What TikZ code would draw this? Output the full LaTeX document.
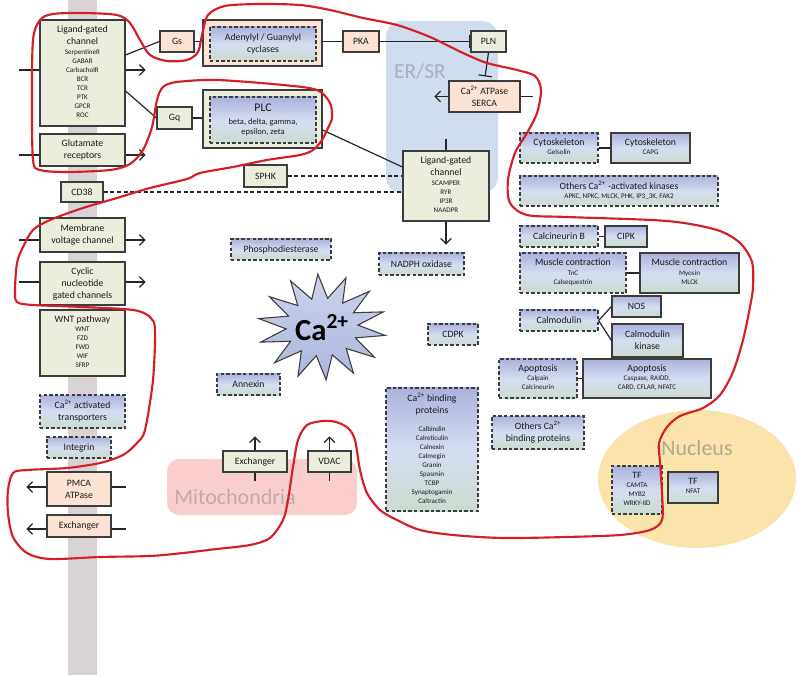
\documentclass[tikz,border=0pt]{standalone}
\usepackage{fontspec}
\setmainfont{Carlito}
\usetikzlibrary{arrows.meta,calc}
\definecolor{gfill}{RGB}{235,238,220}
\definecolor{pfill}{RGB}{252,227,211}
\definecolor{bord}{RGB}{60,60,60}
\definecolor{btop}{RGB}{172,178,220}
\definecolor{bmid}{RGB}{212,221,240}
\definecolor{bbot}{RGB}{204,220,208}
\definecolor{redl}{RGB}{212,30,40}
\definecolor{memb}{RGB}{217,211,213}
\definecolor{erfill}{RGB}{207,221,238}
\definecolor{mitofill}{RGB}{251,206,206}
\definecolor{nucfill}{RGB}{250,228,172}
\definecolor{ertext}{RGB}{168,175,190}
\definecolor{nuctext}{RGB}{175,168,150}
\definecolor{mitotext}{RGB}{190,170,170}
\definecolor{startop}{RGB}{205,212,236}
\definecolor{starbot}{RGB}{172,182,220}
\newcommand\bigtxt{\fontsize{7.3}{9}\selectfont}
\newcommand\smtxt{\fontsize{5.3}{6.75}\selectfont}
\newcommand\sublist[1]{{\smtxt\begin{tabular}[t]{@{}c@{}}#1\end{tabular}}}
\tikzset{
  sz/.style 2 args={minimum width=#1*0.75pt, minimum height=#2*0.75pt},
  boxbase/.style={draw=bord, line width=0.9pt, inner sep=0pt, align=center, font=\bigtxt, text=black!90},
  gbox/.style={boxbase, fill=gfill},
  pbox/.style={boxbase, fill=pfill},
  solbox/.style={boxbase, top color=btop, bottom color=bbot, middle color=bmid},
  dbox/.style={solbox, dash pattern=on 2.6pt off 1.6pt},
  conn/.style={draw=black!85, line width=0.9pt},
  arr/.style={conn, -{Straight Barb[length=4pt,width=8pt]}},
  inh/.style={conn, -{Bar[width=10pt]}},
  dline/.style={conn, dash pattern=on 3pt off 2pt},
}
\begin{document}
\begin{tikzpicture}[x=0.75pt,y=-0.75pt]
\useasboundingbox (0,0) rectangle (800,677);
\fill[white] (0,0) rectangle (800,677);
% backgrounds
\fill[memb] (68,0) rectangle (97,675);
\fill[erfill, rounded corners=12pt] (386,21) rectangle (498,193);
\node[font=\fontsize{16}{18}\selectfont, text=ertext] (erlab) at (420,72) {ER/SR};
\fill[mitofill, rounded corners=9pt] (167,459) rectangle (357,515);
\node[font=\fontsize{16.5}{18}\selectfont, text=mitotext] (mitolab) at (235,497) {Mitochondria};
\fill[nucfill] (697,479) ellipse [x radius=99, y radius=69];
\node[font=\fontsize{16.5}{18}\selectfont, text=nuctext] (nuclab) at (697,448) {Nucleus};

% left column
\node[gbox, sz={85}{106}] (lgc) at (82.5,73) {Ligand-gated\\channel\\[-2pt]\sublist{SerpentineR\\GABAR\\CarbacholR\\BCR\\TCR\\PTK\\GPCR\\ROC}};
\node[gbox, sz={85}{32}] (glu) at (82.5,150) {Glutamate\\receptors};
\node[gbox, sz={42}{20}] (cd38) at (82,192) {CD38};
\node[gbox, sz={85}{34}] (mvc) at (82.5,235) {Membrane\\voltage channel};
\node[gbox, sz={85}{43}] (cng) at (82.5,283.5) {Cyclic\\nucleotide\\gated channels};
\node[gbox, sz={85}{66}] (wnt) at (82.5,343) {WNT pathway\\[-2pt]\sublist{WNT\\FZD\\FWD\\WIF\\SFRP}};
\node[dbox, sz={85}{33}] (cat) at (82.5,411.5) {Ca\textsuperscript{2+} activated\\transporters};
\node[dbox, sz={64}{21}] (itg) at (79,447.5) {Integrin};
\node[pbox, sz={64}{34}] (pmca) at (79,489) {PMCA\\ATPase};
\node[pbox, sz={64}{22}] (exl) at (79,526) {Exchanger};

% G proteins and top
\node[pbox, sz={34}{21}] (gs) at (177,41.5) {Gs};
\node[gbox, sz={35}{22}] (gq) at (174.5,118) {Gq};
\node[pbox, sz={119}{46}] (cyc) at (262.5,43) {};
\node[dbox, sz={106}{34}] (cyci) at (263,44) {Adenylyl / Guanylyl\\cyclases};
\node[gbox, sz={119}{58}] (plc) at (262.5,119) {};
\node[dbox, sz={106}{46}, font=\fontsize{6.4}{7.6}\selectfont] (plci) at (263,120) {{\fontsize{8.8}{10}\selectfont PLC}\\[2pt]beta, delta, gamma,\\epsilon, zeta};
\node[pbox, sz={36}{21}] (pka) at (361,41.5) {PKA};
\node[gbox, sz={35}{21}] (pln) at (488.5,41.5) {PLN};
\node[pbox, sz={71}{31}] (serca) at (484.5,96.5) {Ca\textsuperscript{2+} ATPase\\SERCA};

% centre
\node[gbox, sz={86}{70}] (lgc2) at (446,186) {Ligand-gated\\channel\\[-2pt]\sublist{SCAMPER\\RYR\\IP3R\\NAADPR}};
\node[gbox, sz={43}{22}] (sphk) at (265.5,176) {SPHK};
\node[dbox, sz={100}{21}] (pde) at (281,249.5) {Phosphodiesterase};
\node[dbox, sz={85}{22}] (nadph) at (421.5,264) {NADPH oxidase};
\node[dbox, sz={63}{21}] (anx) at (248.5,384.5) {Annexin};
\node[dbox, sz={50}{21}] (cdpk) at (453,334.5) {CDPK};
\node[dbox, sz={92}{123}] (cbp) at (432,449.5) {Ca\textsuperscript{2+} binding\\proteins\\[4pt]\sublist{Calbindin\\Calreticulin\\Calnexin\\Calmegin\\Granin\\Spasmin\\TCBP\\Synaptogamin\\Caltractin}};
\node[dbox, sz={92}{33}] (ocbp) at (538,432.5) {Others Ca\textsuperscript{2+}\\binding proteins};
\node[gbox, sz={64}{21}] (exm) at (255,461.5) {Exchanger};
\node[gbox, sz={43}{21}] (vdac) at (329.5,461.5) {VDAC};

% right
\node[dbox, sz={78}{30}] (cyto1) at (559,148) {Cytoskeleton\\[-2pt]\sublist{Gelsolin}};
\node[solbox, sz={79}{30}] (cyto2) at (650.5,148) {Cytoskeleton\\[-2pt]\sublist{CAPG}};
\node[dbox, sz={198}{30}] (okin) at (619,191) {Others Ca\textsuperscript{2+} -activated kinases\\[-2pt]\sublist{APKC, NPKC, MLCK, PHK, IP3\_3K, FAK2}};
\node[dbox, sz={78}{21}] (calb) at (559,236.5) {Calcineurin B};
\node[solbox, sz={42}{21}] (cipk) at (626,236.5) {CIPK};
\node[dbox, sz={106}{40}] (mus1) at (573,273) {Muscle contraction\\[-2pt]\sublist{TnC\\Calsequestrin}};
\node[solbox, sz={99}{40}] (mus2) at (689.5,273) {Muscle contraction\\[-2pt]\sublist{Myosin\\MLCK}};
\node[solbox, sz={49}{21}] (nos) at (636.5,306.5) {NOS};
\node[dbox, sz={78}{21}] (calm) at (559,320.5) {Calmodulin};
\node[solbox, sz={71}{33}] (calk) at (647.5,340.5) {Calmodulin\\kinase};
\node[dbox, sz={78}{39}] (apo1) at (538,378.5) {Apoptosis\\[-2pt]\sublist{Calpain\\Calcineurin}};
\node[solbox, sz={128}{39}] (apo2) at (647,378.5) {Apoptosis\\[-2pt]\sublist{Caspase, RAIDD,\\CARD, CFLAR, NFATC}};
\node[dbox, sz={50}{48}] (tf1) at (637,490) {TF\\[-2pt]\sublist{CAMTA\\MYB2\\WRKY-IID}};
\node[solbox, sz={50}{31}] (tf2) at (693,487.5) {TF\\[-2pt]\sublist{NFAT}};

% star
\shadedraw[top color=startop, bottom color=starbot, draw=bord, line width=0.8pt]
  plot[samples at={0,1,...,27}, variable=\k]
  ({322+(50+14*cos(\k*180))*cos(68+\k*360/28)}, {327-(41+12*cos(\k*180))*sin(68+\k*360/28)}) -- cycle;
\node[font=\bfseries\fontsize{23}{26}\selectfont] (ca) at (322,328) {Ca\textsuperscript{2+}};

% connectors left
\draw[conn] (lgc.west |- 0,70) -- ++(-20,0);
\draw[arr] (lgc.east |- 0,70) -- ++(20,0);
\draw[conn] (glu.west |- 0,155) -- ++(-20,0);
\draw[arr] (glu.east |- 0,155) -- ++(20,0);
\draw[conn] (mvc.west |- 0,240) -- ++(-20,0);
\draw[arr] (mvc.east |- 0,240) -- ++(20,0);
\draw[conn] (cng.west |- 0,282) -- ++(-20,0);
\draw[arr] (cng.east |- 0,282) -- ++(20,0);
\draw[arr] (pmca.west |- 0,487) -- ++(-20,0);
\draw[conn] (pmca.east |- 0,487) -- ++(14,0);
\draw[arr] (exl.west |- 0,529) -- ++(-20,0);
\draw[conn] (exl.east |- 0,529) -- ++(14,0);
\draw[conn] (lgc.east |- 0,55) -- (gs.west);
\draw[conn] (lgc.east |- 0,91) -- (gq.west);
\draw[conn] (gs.east) -- (gs.east -| cyc.west);
\draw[conn] (gq.east) -- (gq.east -| plc.west);
\draw[conn] (cyc.east |- pka.west) -- (pka.west);
\draw[inh] (pka.east) -- (pln.west);
\draw[inh, shorten >=3pt] (pln.south) -- (serca.north);
\draw[arr] (serca.west) -- ++(-14,0);
\draw[conn] (serca.east) -- ++(12,0);
\draw[conn] (plc.east |- 0,130) -- (lgc2.west |- 0,167);
\draw[conn] (lgc2.north) -- ++(0,-11);
\draw[arr] (lgc2.south) -- ++(0,23);
\draw[dline] (sphk.east) -- (sphk.east -| lgc2.west);
\draw[dline] (cd38.east) -- (cd38.east -| lgc2.west);
\draw[conn] (cyto1.east) -- (cyto2.west);
\draw[conn] (calb.east) -- (cipk.west);
\draw[conn] (mus1.east) -- (mus2.west);
\draw[conn] (calm.east) -- (nos.west);
\draw[conn] (calm.east) -- (calk.west);
\draw[conn] (apo1.east) -- (apo2.west);
\draw[arr] (exm.north) -- ++(0,-14);
\draw[conn] (exm.south) -- ++(0,8);
\draw[arr] (vdac.north) -- ++(0,-14);
\draw[conn] (vdac.south) -- ++(0,8);

% red hand-drawn outline
\draw[redl, line width=1.6pt, line join=round] plot[smooth cycle, tension=0.5] coordinates {
(40,20) (53,14) (83,13) (117,15) (130,23) (140,40) (150,55) (167,61) (187,60) (198,52) (202,35) (208,15) (225,6) (260,4) (300,5) (330,10) (363,18) (397,25) (430,37) (463,53) (487,63) (517,70) (535,76) (541,90) (537,113) (527,133) (515,153) (508,180) (510,203) (527,215) (567,217) (667,221) (717,230) (740,243) (752,262) (753,287) (750,307) (743,340) (733,372) (720,395) (703,408) (680,416) (667,427) (659,443) (660,462) (662,493) (662,520) (650,530) (620,535) (567,537) (503,538) (453,535) (420,530) (397,520) (380,510) (367,493) (360,470) (355,440) (348,428) (336,422) (323,421) (307,425) (298,440) (293,467) (288,500) (283,520) (270,538) (250,545) (217,549) (183,553) (150,556) (100,557) (50,559) (27,553) (13,537) (8,513) (8,490) (13,473) (27,470) (67,468) (100,463) (123,455) (137,443) (145,430) (153,380) (155,330) (150,317) (133,310) (83,307) (33,305) (17,302) (15,290) (17,263) (23,247) (33,230) (50,220) (83,208) (117,198) (150,188) (187,179) (200,173) (233,167) (267,160) (300,155) (313,150) (322,140) (328,128) (332,118) (330,103) (317,90) (283,85) (217,80) (177,82) (163,87) (157,100) (152,127) (143,150) (130,164) (110,170) (67,172) (40,170) (33,160) (32,100) (33,40)};
\end{tikzpicture}
\end{document}
